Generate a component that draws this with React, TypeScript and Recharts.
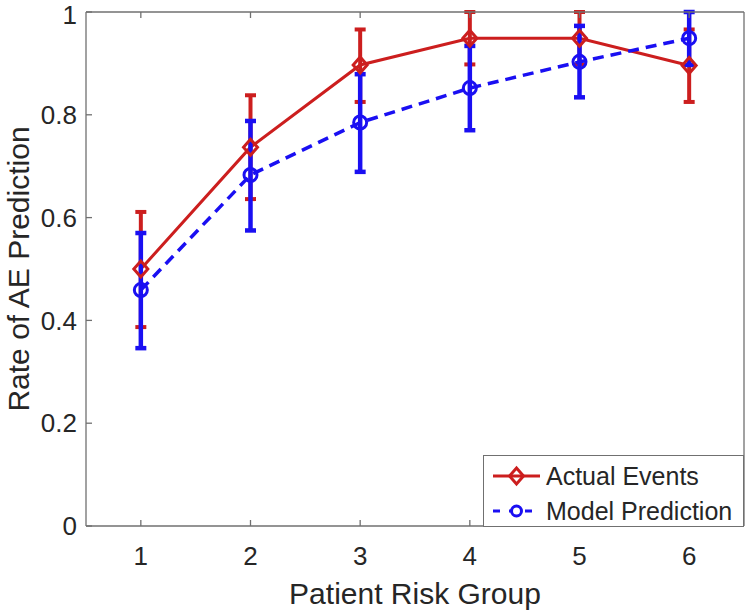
import React from "react";
import {
  ErrorBar,
  Legend,
  Line,
  LineChart,
  XAxis,
  YAxis,
} from "recharts";

// values
const groups = [1, 2, 3, 4, 5, 6];
const actualRate = [0.5, 0.737, 0.897, 0.949, 0.949, 0.896];
const actualLow = [0.387, 0.636, 0.825, 0.898, 0.898, 0.825];
const actualHigh = [0.611, 0.838, 0.966, 1.0, 1.0, 0.966];
const modelRate = [0.459, 0.683, 0.785, 0.852, 0.903, 0.949];
const modelLow = [0.346, 0.575, 0.689, 0.77, 0.834, 0.897];
const modelHigh = [0.57, 0.788, 0.879, 0.934, 0.973, 1.0];
const yTicks = [0, 0.2, 0.4, 0.6, 0.8, 1];

const RED = "#CC1E1E";
const BLUE = "#1A0FF2";
const AXIS = "#707070";
const TEXT = "#262626";
const FONT = '"Liberation Sans", Arial, sans-serif';

const data = groups.map((g, i) => ({
  group: g,
  actual: actualRate[i],
  actualErr: [actualRate[i] - actualLow[i], actualHigh[i] - actualRate[i]],
  model: modelRate[i],
  modelErr: [modelRate[i] - modelLow[i], modelHigh[i] - modelRate[i]],
}));

const Diamond = (p: any) => {
  const { cx, cy, index } = p;
  if (cx == null || cy == null) return <g key={`d-${index}`} />;
  return (
    <path
      key={`d-${index}`}
      d={`M${cx},${cy - 8} L${cx + 7},${cy} L${cx},${cy + 8} L${cx - 7},${cy} Z`}
      fill="none"
      stroke={RED}
      strokeWidth={3}
    />
  );
};

const Ring = (p: any) => {
  const { cx, cy, index } = p;
  if (cx == null || cy == null) return <g key={`c-${index}`} />;
  return <circle key={`c-${index}`} cx={cx} cy={cy} r={6.5} fill="none" stroke={BLUE} strokeWidth={3} />;
};

const NoTick = () => <g />;

function LegendBox() {
  return (
    <svg width={261} height={72} style={{ display: "block" }}>
      <rect x={0.5} y={0.5} width={260} height={71} fill="#fff" stroke={AXIS} strokeWidth={1} />
      <line x1={10} y1={21} x2={57} y2={21} stroke={RED} strokeWidth={3} />
      <path d="M33.5,13 L40.5,21 L33.5,29 L26.5,21 Z" fill="none" stroke={RED} strokeWidth={3} />
      <text x={63} y={30} fontSize={25} fill={TEXT} fontFamily={FONT}>
        Actual Events
      </text>
      <line x1={10} y1={56} x2={57} y2={56} stroke={BLUE} strokeWidth={3} strokeDasharray="7 9" />
      <circle cx={33.5} cy={56} r={5} fill="#fff" stroke={BLUE} strokeWidth={3} />
      <text x={63} y={65} fontSize={25} fill={TEXT} fontFamily={FONT}>
        Model Prediction
      </text>
    </svg>
  );
}

export default function App() {
  return (
    <div
      style={{
        position: "absolute",
        left: 0,
        top: 0,
        width: 747,
        height: 613,
        background: "#fff",
        fontFamily: FONT,
      }}
    >
      <LineChart
        width={747}
        height={613}
        data={data}
        margin={{ top: 11, right: 2, left: 0, bottom: 0 }}
      >
        <XAxis
          xAxisId="b"
          dataKey="group"
          type="number"
          domain={[0.5, 6.5]}
          ticks={groups}
          height={87}
          tickSize={-6}
          tickMargin={27}
          axisLine={{ stroke: AXIS, strokeWidth: 1.3 }}
          tickLine={{ stroke: AXIS, strokeWidth: 1.3 }}
          tick={{ fontSize: 26, fill: TEXT }}
          label={{
            value: "Patient Risk Group",
            position: "center",
            dy: 24,
            fontSize: 30,
            fill: TEXT,
          }}
        />
        <XAxis
          xAxisId="t"
          dataKey="group"
          type="number"
          orientation="top"
          domain={[0.5, 6.5]}
          ticks={groups}
          height={1}
          tickSize={-6}
          tick={NoTick}
          axisLine={{ stroke: AXIS, strokeWidth: 1.3 }}
          tickLine={{ stroke: AXIS, strokeWidth: 1.3 }}
        />
        <YAxis
          yAxisId="l"
          type="number"
          domain={[0, 1]}
          ticks={yTicks}
          width={86}
          tickSize={-6}
          tickMargin={15}
          tickFormatter={(v: number) => (v === 0 || v === 1 ? String(v) : v.toFixed(1))}
          axisLine={{ stroke: AXIS, strokeWidth: 1.3 }}
          tickLine={{ stroke: AXIS, strokeWidth: 1.3 }}
          tick={{ fontSize: 26, fill: TEXT }}
          label={{
            value: "Rate of AE Prediction",
            angle: -90,
            position: "center",
            dx: -25,
            fontSize: 30,
            fill: TEXT,
          }}
        />
        <YAxis
          yAxisId="r"
          orientation="right"
          type="number"
          domain={[0, 1]}
          ticks={yTicks}
          width={1}
          tickSize={-6}
          tick={NoTick}
          axisLine={{ stroke: AXIS, strokeWidth: 1.3 }}
          tickLine={{ stroke: AXIS, strokeWidth: 1.3 }}
        />
        <Legend
          layout="vertical"
          align="center"
          verticalAlign="middle"
          wrapperStyle={{ left: 483, top: 455, width: 261, height: 72 }}
          content={() => <LegendBox />}
        />
        <Line
          xAxisId="b"
          yAxisId="l"
          dataKey="actual"
          stroke={RED}
          strokeWidth={3}
          dot={Diamond}
          activeDot={false}
          isAnimationActive={false}
        >
          <ErrorBar dataKey="actualErr" direction="y" width={5.5} stroke={RED} strokeWidth={4} isAnimationActive={false} />
        </Line>
        <Line
          xAxisId="b"
          yAxisId="l"
          dataKey="model"
          stroke={BLUE}
          strokeWidth={3.5}
          strokeDasharray="11 7"
          dot={Ring}
          activeDot={false}
          isAnimationActive={false}
        >
          <ErrorBar dataKey="modelErr" direction="y" width={5.5} stroke={BLUE} strokeWidth={4.5} isAnimationActive={false} />
        </Line>
      </LineChart>
    </div>
  );
}
